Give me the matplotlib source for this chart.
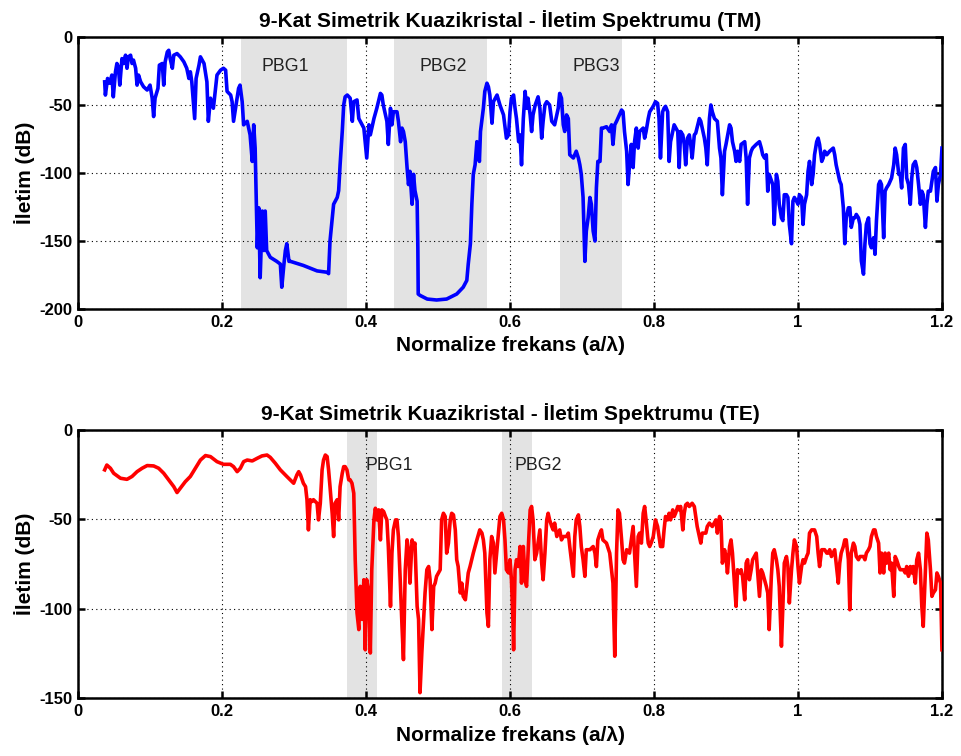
import matplotlib
matplotlib.use("Agg")
import matplotlib.pyplot as plt

plt.rcParams['font.family'] = ['Liberation Sans', 'DejaVu Sans']

# ======================================
# DATA ‚Äî
# ======================================

# TM spectrum (normalized frequency a/lambda, transmission dB)
tm_x = [
    0.037, 0.038, 0.041, 0.044, 0.047, 0.049, 0.052, 0.054, 0.056, 0.058,
    0.061, 0.063, 0.066, 0.068, 0.070, 0.073, 0.075, 0.077, 0.080, 0.082,
    0.084, 0.087, 0.091, 0.096, 0.100, 0.103, 0.105, 0.107, 0.111, 0.113,
    0.117, 0.119, 0.121, 0.124, 0.126, 0.128, 0.131, 0.133, 0.1375, 0.142,
    0.147, 0.151, 0.154, 0.156, 0.158, 0.162, 0.164, 0.168, 0.170, 0.175,
    0.179, 0.181, 0.184, 0.188, 0.193, 0.198, 0.202, 0.205, 0.207, 0.212,
    0.214, 0.216, 0.221, 0.223, 0.225, 0.228, 0.230, 0.235, 0.239, 0.242,
    0.244, 0.246, 0.249, 0.251, 0.253, 0.256, 0.258, 0.260, 0.262, 0.265,
    0.267, 0.276, 0.281, 0.283, 0.286, 0.288, 0.290, 0.293, 0.295, 0.313,
    0.332, 0.346, 0.348, 0.350, 0.355, 0.360, 0.362, 0.364, 0.367, 0.369,
    0.371, 0.374, 0.378, 0.381, 0.383, 0.3875, 0.390, 0.397, 0.401, 0.404,
    0.406, 0.411, 0.415, 0.420, 0.422, 0.424, 0.429, 0.431, 0.434, 0.436,
    0.438, 0.443, 0.445, 0.448, 0.450, 0.452, 0.4545, 0.457, 0.459, 0.461,
    0.464, 0.466, 0.468, 0.471, 0.472, 0.4725, 0.475, 0.485, 0.498, 0.512,
    0.526, 0.535, 0.540, 0.542, 0.545, 0.547, 0.549, 0.5515, 0.554, 0.556,
    0.5575, 0.559, 0.563, 0.565, 0.568, 0.570, 0.572, 0.575, 0.577, 0.582,
    0.586, 0.591, 0.595, 0.598, 0.600, 0.602, 0.605, 0.607, 0.609, 0.612,
    0.614, 0.616, 0.6185, 0.621, 0.623, 0.625, 0.628, 0.630, 0.632, 0.635,
    0.639, 0.6415, 0.644, 0.646, 0.6485, 0.651, 0.655, 0.658, 0.662, 0.667,
    0.669, 0.6715, 0.674, 0.676, 0.6785, 0.681, 0.683, 0.688, 0.692, 0.695,
    0.697, 0.699, 0.7015, 0.704, 0.706, 0.7085, 0.711, 0.713, 0.7155, 0.718,
    0.720, 0.722, 0.725, 0.727, 0.729, 0.734, 0.7385, 0.741, 0.743, 0.7455,
    0.748, 0.752, 0.755, 0.757, 0.759, 0.762, 0.764, 0.766, 0.7685, 0.771,
    0.773, 0.7755, 0.778, 0.780, 0.785, 0.787, 0.789, 0.792, 0.794, 0.799,
    0.802, 0.805, 0.807, 0.809, 0.812, 0.814, 0.816, 0.819, 0.821, 0.823,
    0.828, 0.833, 0.835, 0.837, 0.840, 0.842, 0.844, 0.8465, 0.849, 0.851,
    0.853, 0.856, 0.858, 0.863, 0.865, 0.867, 0.870, 0.872, 0.874, 0.877,
    0.879, 0.881, 0.884, 0.888, 0.891, 0.893, 0.895, 0.898, 0.900, 0.905,
    0.907, 0.909, 0.912, 0.914, 0.916, 0.919, 0.921, 0.926, 0.928, 0.930,
    0.9325, 0.935, 0.937, 0.942, 0.9465, 0.949, 0.951, 0.9535, 0.956, 0.958,
    0.960, 0.965, 0.967, 0.970, 0.972, 0.974, 0.977, 0.979, 0.981, 0.984,
    0.986, 0.988, 0.991, 0.993, 0.995, 0.998, 1.000, 1.002, 1.005, 1.007,
    1.009, 1.012, 1.014, 1.016, 1.019, 1.021, 1.023, 1.026, 1.028, 1.030,
    1.033, 1.035, 1.037, 1.040, 1.044, 1.049, 1.051, 1.053, 1.058, 1.060,
    1.063, 1.065, 1.067, 1.070, 1.072, 1.074, 1.077, 1.079, 1.081, 1.084,
    1.086, 1.088, 1.091, 1.093, 1.095, 1.098, 1.100, 1.102, 1.105, 1.107,
    1.109, 1.112, 1.114, 1.116, 1.119, 1.121, 1.123, 1.126, 1.128, 1.130,
    1.133, 1.135, 1.137, 1.140, 1.142, 1.144, 1.1465, 1.149, 1.151, 1.1535,
    1.156, 1.158, 1.160, 1.163, 1.165, 1.1675, 1.170, 1.172, 1.174, 1.177,
    1.179, 1.181, 1.184, 1.186, 1.188, 1.191, 1.193, 1.195, 1.198, 1.200,
]
tm_db = [
    -33, -42.7, -30.5, -34, -28, -44, -25.6, -19.5, -22, -35.4,
    -15.9, -19.5, -13.4, -23, -14.6, -13.4, -19.5, -17, -23, -35.4,
    -28, -33, -36.6, -39, -35.4, -45, -58.5, -45, -37.8, -20.7,
    -19.5, -35.4, -18.3, -11, -9.8, -15.9, -23, -13.4, -12.2, -14.6,
    -18.3, -23, -30.5, -25.6, -33, -60, -30.5, -20.7, -14.6, -19.5,
    -33, -62, -45, -52.4, -28, -24.4, -23, -24.4, -40, -42.7,
    -47.6, -62, -45, -37.8, -35.4, -47.6, -64.6, -62, -72, -91.5,
    -64.6, -81.7, -155, -125.6, -177, -128, -157, -128, -157, -160,
    -162, -165, -167, -184, -167, -157, -152, -165, -165, -168,
    -172, -173, -174, -150, -123, -118, -113, -94, -69.5, -50,
    -44, -42.7, -45, -62, -47.6, -46.3, -60, -67, -89, -64.6,
    -72, -60, -52.4, -41.5, -42.7, -50, -62, -79, -52.4, -64.6,
    -55, -55, -62, -77, -67, -69.5, -77, -96, -108.5, -98.8,
    -123, -101, -113, -120.7, -155, -189, -190, -192.7, -193.4, -192.7,
    -189, -184, -179, -167, -152, -123, -101, -94, -77, -84,
    -91.5, -69.5, -52.4, -40, -34, -36.6, -42.7, -63.4, -47.6, -42.7,
    -50, -57.3, -74.4, -72, -55, -45, -42.7, -52.4, -60, -77,
    -72, -94, -60, -40, -52.4, -45, -57.3, -69.5, -57.3, -50,
    -44, -52.4, -74.4, -62, -50, -47.6, -50, -62, -64.6, -52.4,
    -41.5, -45, -64.6, -69.5, -57.3, -60, -86.6, -89, -84, -89,
    -94, -101, -118, -165, -142.7, -133, -118, -123, -142.7, -150,
    -111, -91.5, -91.5, -67, -67, -66, -69.5, -64.6, -79, -64.6,
    -62, -57.3, -53.7, -55, -69.5, -84, -108.5, -94, -79, -96,
    -77, -67, -81.7, -69.5, -67, -74.4, -69.5, -60, -55, -51,
    -47.6, -48.8, -60, -89, -55, -52.4, -51, -55, -91.5, -77,
    -64.6, -69.5, -96, -69.5, -72, -79, -94, -74.4, -72, -79,
    -89, -72, -70.7, -60, -62, -67, -74.4, -81.7, -94, -60,
    -50, -55, -60, -62, -81.7, -89, -116, -84, -79, -64.6,
    -67, -77, -84, -91.5, -84, -91.5, -79, -77, -89, -123,
    -89, -84, -81.7, -79, -77, -81.7, -86.6, -89, -86.6, -113.4,
    -101, -108.5, -137.8, -101, -106, -123, -133, -135, -116, -116,
    -118, -137.8, -152, -120.7, -118, -120.7, -123, -116, -118, -137.8,
    -123, -116, -98.8, -91.5, -108.5, -101, -86.6, -77, -74.4, -79,
    -91.5, -89, -84, -86.6, -84, -81.7, -86.6, -94, -106, -108.5,
    -125.6, -152, -133, -125.6, -125.6, -140, -133, -133, -130.5, -133,
    -137.8, -164.6, -174.4, -152, -137.8, -133, -152, -155, -147.6, -159.8,
    -135, -108.5, -106, -108.5, -147.6, -113.4, -111, -108.5, -106, -103.7,
    -94, -81.7, -86.6, -101, -101, -111, -81.7, -79, -103.7, -108.5,
    -123, -103.7, -94, -91.5, -96, -108.5, -123, -113.4, -116, -140,
    -123, -113.4, -113.4, -106, -98.8, -96, -120.7, -108.5, -101, -81.7,
]

# TE spectrum
te_x = [
    0.037, 0.040, 0.045, 0.0495, 0.059, 0.068, 0.075, 0.082, 0.089, 0.096,
    0.105, 0.112, 0.119, 0.126, 0.133, 0.1375, 0.142, 0.149, 0.156, 0.163,
    0.170, 0.177, 0.184, 0.193, 0.202, 0.2115, 0.216, 0.221, 0.2255, 0.230,
    0.235, 0.242, 0.249, 0.2555, 0.2625, 0.267, 0.274, 0.281, 0.290, 0.2995,
    0.304, 0.3065, 0.309, 0.313, 0.316, 0.318, 0.320, 0.3225, 0.325, 0.327,
    0.332, 0.334, 0.3365, 0.339, 0.341, 0.3435, 0.346, 0.348, 0.350, 0.353,
    0.355, 0.357, 0.360, 0.362, 0.364, 0.367, 0.369, 0.371, 0.3735, 0.376,
    0.378, 0.3805, 0.383, 0.385, 0.3875, 0.390, 0.392, 0.3945, 0.397, 0.399,
    0.401, 0.404, 0.406, 0.408, 0.411, 0.413, 0.415, 0.4175, 0.420, 0.422,
    0.4245, 0.427, 0.429, 0.431, 0.434, 0.436, 0.438, 0.441, 0.443, 0.445,
    0.4475, 0.450, 0.452, 0.4545, 0.457, 0.459, 0.461, 0.464, 0.466, 0.468,
    0.471, 0.473, 0.475, 0.4775, 0.480, 0.482, 0.4845, 0.487, 0.489, 0.4915,
    0.494, 0.496, 0.498, 0.503, 0.505, 0.5075, 0.510, 0.512, 0.5145, 0.517,
    0.519, 0.5215, 0.524, 0.526, 0.528, 0.531, 0.533, 0.535, 0.538, 0.540,
    0.542, 0.5445, 0.549, 0.554, 0.558, 0.561, 0.563, 0.565, 0.568, 0.570,
    0.572, 0.5745, 0.577, 0.579, 0.5815, 0.584, 0.586, 0.5885, 0.591, 0.593,
    0.595, 0.598, 0.600, 0.602, 0.604, 0.605, 0.607, 0.609, 0.6115, 0.614,
    0.616, 0.6185, 0.621, 0.623, 0.6255, 0.628, 0.630, 0.632, 0.6345, 0.637,
    0.6415, 0.644, 0.646, 0.6485, 0.651, 0.653, 0.655, 0.658, 0.660, 0.662,
    0.665, 0.669, 0.6715, 0.674, 0.6785, 0.681, 0.683, 0.688, 0.690, 0.692,
    0.695, 0.697, 0.699, 0.7015, 0.704, 0.706, 0.711, 0.7155, 0.718, 0.720,
    0.722, 0.725, 0.727, 0.729, 0.734, 0.7385, 0.743, 0.7455, 0.748, 0.750,
    0.752, 0.755, 0.757, 0.759, 0.762, 0.766, 0.771, 0.773, 0.7755, 0.778,
    0.780, 0.7825, 0.785, 0.787, 0.789, 0.792, 0.794, 0.796, 0.799, 0.802,
    0.805, 0.807, 0.809, 0.812, 0.814, 0.816, 0.819, 0.821, 0.823, 0.826,
    0.828, 0.830, 0.833, 0.835, 0.837, 0.840, 0.842, 0.844, 0.8465, 0.849,
    0.851, 0.853, 0.856, 0.858, 0.860, 0.863, 0.865, 0.867, 0.872, 0.874,
    0.877, 0.881, 0.886, 0.888, 0.891, 0.893, 0.895, 0.898, 0.900, 0.902,
    0.905, 0.907, 0.909, 0.912, 0.914, 0.916, 0.919, 0.921, 0.923, 0.926,
    0.928, 0.930, 0.9325, 0.935, 0.937, 0.942, 0.944, 0.9465, 0.949, 0.951,
    0.9535, 0.956, 0.958, 0.960, 0.963, 0.965, 0.967, 0.970, 0.972, 0.974,
    0.977, 0.979, 0.981, 0.984, 0.986, 0.988, 0.991, 0.993, 0.995, 0.998,
    1.000, 1.002, 1.005, 1.007, 1.009, 1.012, 1.014, 1.016, 1.019, 1.023,
    1.026, 1.028, 1.030, 1.033, 1.037, 1.040, 1.042, 1.044, 1.0465, 1.051,
    1.053, 1.056, 1.058, 1.060, 1.063, 1.065, 1.067, 1.070, 1.072, 1.074,
    1.077, 1.079, 1.081, 1.084, 1.086, 1.091, 1.093, 1.095, 1.098, 1.100,
    1.102, 1.105, 1.107, 1.109, 1.112, 1.114, 1.116, 1.119, 1.121, 1.123,
    1.126, 1.128, 1.130, 1.133, 1.135, 1.137, 1.140, 1.142, 1.1465, 1.149,
    1.151, 1.1535, 1.156, 1.158, 1.160, 1.163, 1.165, 1.1675, 1.170, 1.172,
    1.174, 1.177, 1.179, 1.181, 1.184, 1.186, 1.188, 1.191, 1.193, 1.195,
    1.198, 1.200,
]
te_db = [
    -22.3, -19.6, -21.4, -24.2, -27, -27.6, -26, -23.3, -21.4, -19.9,
    -20.1, -21.4, -24.2, -27.9, -31.7, -35, -32.6, -28.9, -26, -21.4,
    -16.8, -14.3, -14.9, -17.7, -19.2, -19.2, -20.5, -23.3, -21.4, -17.7,
    -16.8, -17.3, -15.8, -14.5, -14, -15.3, -18.6, -22.3, -26, -29.8,
    -25.1, -23.3, -25.1, -29.8, -31.7, -39, -55.9, -39, -40, -39,
    -41, -50.3, -41, -22.3, -16.8, -14, -14.9, -22.3, -31.7, -46.6,
    -59.6, -41, -39, -50.3, -31.7, -24.2, -20.5, -20.5, -22.3, -27.9,
    -27.9, -29.8, -35.4, -72.6, -102.4, -111.7, -87.5, -106, -83.8, -123,
    -83.8, -91.2, -124.8, -78.2, -50.3, -43.8, -50.3, -44.7, -61.5, -44.7,
    -45.6, -48.4, -50.3, -65.2, -98.7, -68.9, -55.9, -50.3, -50.3, -59.6,
    -83.8, -109.9, -128.5, -78.2, -61.5, -67, -85.7, -61.5, -65.2, -63.3,
    -98.7, -106, -147, -124.8, -106, -91.2, -78.2, -76.4, -83.8, -111.7,
    -87.5, -85.7, -81.9, -78.2, -50.3, -46.6, -48.4, -68.9, -63.3, -50.3,
    -46.6, -47.5, -55.9, -72.6, -76.4, -91.2, -85.7, -93.1, -95, -87.5,
    -80, -76.4, -68.9, -61.5, -55.9, -57.7, -61.5, -68.9, -102.4, -109.9,
    -72.6, -59.6, -63.3, -80, -68.9, -57.7, -48.4, -46.6, -50.3, -61.5,
    -78.2, -80, -72.6, -83.8, -106, -123, -78.2, -72.6, -76.4, -65.2,
    -85.7, -65.2, -83.8, -87.5, -65.2, -44.7, -42.8, -50.3, -72.6, -68.9,
    -55.9, -74.5, -83.8, -68.9, -50.3, -46.6, -50.3, -54, -55.9, -52.1,
    -59.6, -55.9, -61.5, -59.6, -59.6, -57.7, -65.2, -81.9, -59.6, -50.3,
    -47.5, -54, -65.2, -72.6, -81.9, -67, -67, -65.2, -68.9, -76.4,
    -61.5, -57.7, -55.9, -61.5, -63.3, -68.9, -85.7, -126.6, -68.9, -44.7,
    -46.6, -61.5, -72.6, -74.5, -67, -68.9, -54, -68.9, -87.5, -59.6,
    -57.7, -63.3, -46.6, -42.8, -50.3, -63.3, -65.2, -63.3, -59.6, -50.3,
    -54, -59.6, -65.2, -65.2, -55.9, -48.4, -50.3, -46.6, -50.3, -44.7,
    -48.4, -46.6, -42.8, -44.7, -42.8, -55.9, -46.6, -41.9, -41, -42.8,
    -41.9, -41, -42.8, -48.4, -54, -59.6, -63.3, -57.7, -57.7, -54,
    -52.1, -54, -50.3, -57.7, -48.4, -50.3, -74.5, -67, -70.8, -80,
    -65.2, -61.5, -68.9, -87.5, -98.7, -78.2, -80, -78.2, -81.9, -95,
    -74.5, -72.6, -83.8, -78.2, -72.6, -68.9, -80, -93.1, -78.2, -80,
    -83.8, -87.5, -91.2, -111.7, -81.9, -68.9, -67, -72.6, -78.2, -87.5,
    -121, -98.7, -74.5, -70.8, -76.4, -96.8, -78.2, -68.9, -61.5, -65.2,
    -76.4, -85.7, -76.4, -72.6, -74.5, -70.8, -68.9, -57.7, -55.9, -55.9,
    -59.6, -68.9, -76.4, -67, -67, -68.9, -68.9, -67, -70.8, -67,
    -74.5, -85.7, -74.5, -68.9, -65.2, -61.5, -61.5, -72.6, -100.6, -68.9,
    -63.3, -65.2, -70.8, -72.6, -70.8, -70.8, -72.6, -68.9, -67, -65.2,
    -59.6, -55.9, -55.9, -59.6, -63.3, -80, -68.9, -80, -68.9, -74.5,
    -68.9, -78.2, -74.5, -93.1, -70.8, -72.6, -76.4, -78.2, -78.2, -80,
    -76.4, -81.9, -76.4, -80, -76.4, -85.7, -72.6, -68.9, -78.2, -98.7,
    -109.9, -78.2, -57.7, -61.5, -78.2, -93.1, -91.2, -89.4, -80, -81.9,
    -85.7, -123,
]

# photonic band gaps: (start, end) and label anchor
tm_gaps = [(0.226, 0.374), (0.439, 0.568), (0.669, 0.756)]
tm_gap_names = ["PBG1", "PBG2", "PBG3"]
tm_label_x = [0.288, 0.507, 0.720]
tm_label_y = -22

te_gaps = [(0.374, 0.415), (0.589, 0.631)]
te_gap_names = ["PBG1", "PBG2"]
te_label_x = [0.432, 0.639]
te_label_y = -20

x_ticks = [0, 0.2, 0.4, 0.6, 0.8, 1.0, 1.2]
x_tick_labels = ["0", "0.2", "0.4", "0.6", "0.8", "1", "1.2"]


def style_axis(ax, ymin, yticks):
    ax.set_xlim(0, 1.2)
    ax.set_ylim(ymin, 0)
    ax.set_xticks(x_ticks)
    ax.set_xticklabels(x_tick_labels)
    ax.set_yticks(yticks)
    ax.set_yticklabels([str(t) for t in yticks])
    ax.grid(True, color="black", linestyle=(0, (1, 3)), linewidth=0.8)
    ax.set_axisbelow(False)
    ax.tick_params(direction="in", top=True, right=True, length=5, width=1.8,
                   labelsize=12, pad=4)
    for lab in ax.get_xticklabels() + ax.get_yticklabels():
        lab.set_fontweight("bold")
    for sp in ax.spines.values():
        sp.set_linewidth(1.8)
    ax.set_xlabel("Normalize frekans (a/λ)", fontsize=15, fontweight="bold", labelpad=5)
    ax.set_ylabel("İletim (dB)", fontsize=15, fontweight="bold", labelpad=3)


fig = plt.figure(figsize=(9.61, 7.56), dpi=100)

# ======================================
# TOP ‚Äî TM
# ======================================
ax1 = fig.add_axes([0.0812, 0.5913, 0.899, 0.3598])
for (a, b) in tm_gaps:
    ax1.axvspan(a, b, color="#e3e3e3", lw=0, zorder=0)
for name, lx in zip(tm_gap_names, tm_label_x):
    ax1.text(lx, tm_label_y, name, ha="center", va="center", fontsize=12.8, color="#222222")
ax1.plot(tm_x, tm_db, color="#0000ff", linewidth=2.6, zorder=3)
style_axis(ax1, -200, [0, -50, -100, -150, -200])
ax1.set_title("9-Kat Simetrik Kuazikristal - İletim Spektrumu (TM)",
              fontsize=15, fontweight="bold", pad=7)

# ======================================
# BOTTOM ‚Äî TE
# ======================================
ax2 = fig.add_axes([0.0812, 0.0767, 0.899, 0.3545])
for (a, b) in te_gaps:
    ax2.axvspan(a, b, color="#e3e3e3", lw=0, zorder=0)
for name, lx in zip(te_gap_names, te_label_x):
    ax2.text(lx, te_label_y, name, ha="center", va="center", fontsize=12.8, color="#222222")
ax2.plot(te_x, te_db, color="#ff0000", linewidth=2.6, zorder=3)
style_axis(ax2, -150, [0, -50, -100, -150])
ax2.set_title("9-Kat Simetrik Kuazikristal - İletim Spektrumu (TE)",
              fontsize=15, fontweight="bold", pad=7)

fig.savefig("out.png", dpi=100)
